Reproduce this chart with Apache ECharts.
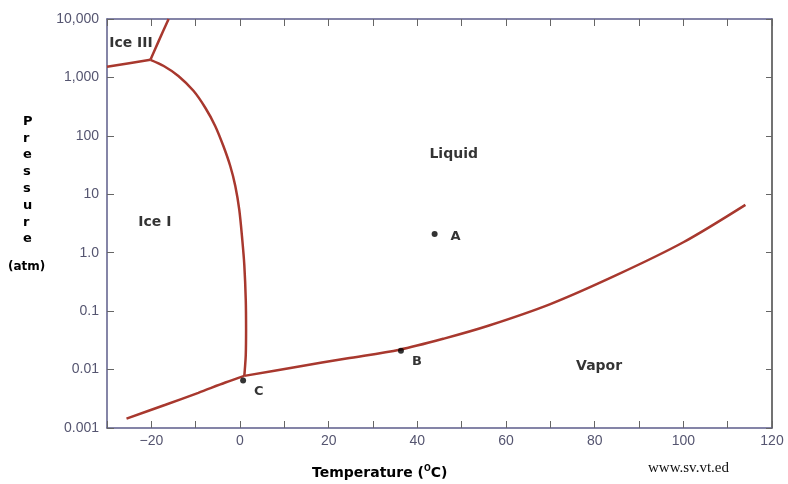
<!DOCTYPE html>
<html>
<head>
<meta charset="utf-8">
<script src="https://cdn.jsdelivr.net/npm/echarts@6/dist/echarts.min.js"></script>
<style>
  html, body { margin: 0; padding: 0; background: #fff; }
  #chart { width: 788px; height: 484px; }
</style>
</head>
<body>
<div id="chart"></div>
<script>
// phase boundaries (temperature in °C, pressure in atm)
var ice3Ice1T = [-30, -25, -20.2];
var ice3Ice1P = [1520, 1750, 2000];

var ice3LiqT = [-20.2, -18.4, -16.1];
var ice3LiqP = [2000, 4100, 10000];

var meltT = [-20.2, -17.2, -13.9, -10.5, -7.8, -5.6, -3.75, -2.2, -1.06, -0.16, 0.52, 0.97, 1.3, 1.37, 1.3, 1.08, 0.97];
var meltP = [2000, 1570, 1060, 590, 300, 148, 67, 30.5, 13.9, 5.4, 1.65, 0.62, 0.155, 0.0475, 0.0177, 0.0098, 0.0078];

var sublT = [-25.6, -16.8, -9.4, -3.3, 0.97];
var sublP = [0.00145, 0.0025, 0.004, 0.006, 0.0078];

var vapT = [0.97, 13, 24, 36, 46, 56, 70, 85, 100, 114];
var vapP = [0.0078, 0.0112, 0.0155, 0.0219, 0.0339, 0.0562, 0.132, 0.417, 1.51, 6.6];

// marked points
var dotNames = ['A', 'B', 'C'];
var dotT = [43.9, 36.3, 0.7];
var dotP = [2.1, 0.021, 0.0065];

// region labels
var regionNames = ['Ice III', 'Ice I', 'Liquid', 'Vapor'];
var regionT = [-24.6, -19.2, 48.2, 81.0];
var regionP = [3900, 3.3, 49, 0.0112];

var yTickLabels = {
  '0.001': '0.001', '0.01': '0.01', '0.1': '0.1', '1': '1.0',
  '10': '10', '100': '100', '1000': '1,000', '10000': '10,000'
};

function pairs(xs, ys) {
  return xs.map(function (x, i) { return [x, ys[i]]; });
}

var curveColor = '#a8382e';
var axisColor = '#5c5c8a';
var labelColor = '#555570';
var boldFont = 'DejaVu Sans';

function curve(xs, ys, smooth) {
  return {
    type: 'line',
    data: pairs(xs, ys),
    smooth: smooth,
    symbol: 'none',
    lineStyle: { color: curveColor, width: 2.5 },
    z: 3
  };
}

var chart = echarts.init(document.getElementById('chart'));

var option = {
  backgroundColor: '#fff',
  animation: false,
  grid: { left: 107, right: 16, top: 19, bottom: 56 },
  xAxis: [{
    type: 'value',
    min: -30,
    max: 120,
    interval: 10,
    axisLine: { show: true, onZero: false, lineStyle: { color: axisColor, width: 1.5 } },
    axisTick: { show: true, inside: true, length: 7, lineStyle: { color: '#666' } },
    splitLine: { show: false },
    axisLabel: {
      color: labelColor,
      fontSize: 14,
      fontFamily: 'Liberation Sans',
      margin: 6,
      formatter: function (v) {
        if (v % 20 !== 0) return '';
        return v < 0 ? '\u2212' + Math.abs(v) : String(v);
      }
    }
  }, {
    type: 'value',
    position: 'top',
    min: -30,
    max: 120,
    interval: 10,
    axisLine: { show: true, onZero: false, lineStyle: { color: axisColor, width: 1.5 } },
    axisTick: { show: true, inside: true, length: 7, lineStyle: { color: '#666' } },
    axisLabel: { show: false },
    splitLine: { show: false }
  }],
  yAxis: [{
    type: 'log',
    logBase: 10,
    min: 0.001,
    max: 10000,
    axisLine: { show: true, onZero: false, lineStyle: { color: axisColor, width: 1.5 } },
    axisTick: { show: true, inside: true, length: 7, lineStyle: { color: '#666' } },
    minorTick: { show: false },
    splitLine: { show: false },
    axisLabel: {
      color: labelColor,
      fontSize: 14,
      fontFamily: 'Liberation Sans',
      margin: 8,
      formatter: function (v) {
        var k = String(Math.round(Math.log10(v)) >= 0 ? Math.round(v) : v);
        return yTickLabels[k] !== undefined ? yTickLabels[k] : '';
      }
    }
  }, {
    type: 'log',
    logBase: 10,
    position: 'right',
    min: 0.001,
    max: 10000,
    axisLine: { show: true, onZero: false, lineStyle: { color: '#444', width: 1.5 } },
    axisTick: { show: true, inside: true, length: 6, lineStyle: { color: '#666' } },
    axisLabel: { show: false },
    splitLine: { show: false }
  }],
  series: [
    curve(ice3Ice1T, ice3Ice1P, false),
    curve(ice3LiqT, ice3LiqP, 0.3),
    curve(meltT, meltP, 0.3),
    curve(sublT, sublP, 0.3),
    curve(vapT, vapP, 0.3),
    {
      type: 'scatter',
      data: pairs(dotT, dotP),
      symbolSize: 6,
      itemStyle: { color: '#000' },
      z: 5,
      label: {
        show: true,
        position: 'right',
        formatter: function (p) { return dotNames[p.dataIndex]; },
        color: '#000',
        fontSize: 13,
        fontWeight: 'bold',
        fontFamily: boldFont
      },
      labelLayout: function (params) {
        // B and C sit below-right of their dots
        if (params.dataIndex === 0) return { dx: 8, dy: 3 };
        return { dx: 3, dy: 11 };
      }
    },
    {
      type: 'scatter',
      data: pairs(regionT, regionP),
      symbolSize: 1,
      itemStyle: { color: 'rgba(0,0,0,0)' },
      z: 4,
      label: {
        show: true,
        position: 'inside',
        formatter: function (p) { return regionNames[p.dataIndex]; },
        color: '#000',
        fontSize: 14,
        fontWeight: 'bold',
        fontFamily: boldFont
      }
    }
  ],
  graphic: [
    {
      type: 'text',
      left: 23,
      top: 113,
      style: {
        text: 'P\nr\ne\ns\ns\nu\nr\ne',
        fill: '#000',
        font: 'bold 13px "DejaVu Sans"',
        lineHeight: 16.8,
        align: 'center'
      }
    },
    {
      type: 'text',
      left: 8,
      top: 261,
      style: {
        text: '(atm)',
        fill: '#000',
        font: 'bold 12px "DejaVu Sans"'
      }
    },
    {
      type: 'text',
      left: 312,
      top: 465,
      style: {
        rich: {
          b: { fontSize: 14, fontWeight: 'bold', fontFamily: boldFont, fill: '#000' },
          s: { fontSize: 8, fontWeight: 'bold', fontFamily: boldFont, fill: '#000', verticalAlign: 'top', padding: [0, 0, 8, 0] }
        },
        text: '{b|Temperature (}{s|O}{b|C)}'
      }
    },
    {
      type: 'text',
      left: 648,
      top: 461,
      style: {
        text: 'www.sv.vt.ed',
        fill: '#111',
        font: '15px "Liberation Serif"'
      }
    }
  ]
};

chart.setOption(option);
</script>
</body>
</html>
